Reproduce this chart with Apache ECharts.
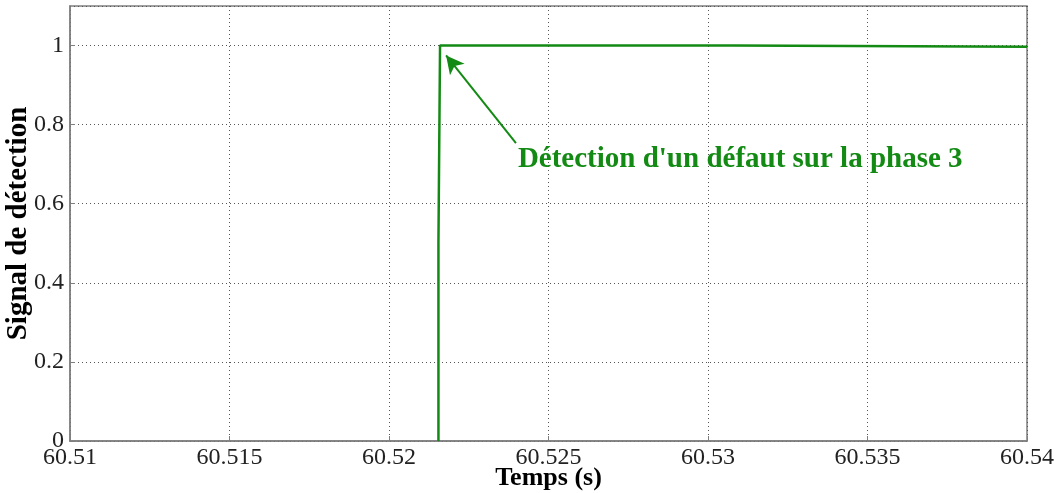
<!DOCTYPE html>
<html>
<head>
<meta charset="utf-8">
<script src="https://cdn.jsdelivr.net/npm/echarts@6/dist/echarts.min.js"></script>
<style>
html,body{margin:0;padding:0;background:#fff;}
#chart{width:1057px;height:493px;}
</style>
</head>
<body>
<div id="chart"></div>
<script>
// Data
const timeValues = [60.52155, 60.52155, 60.5216, 60.5216, 60.5308, 60.5308, 60.54];
const signalValues = [0, 0.5, 0.502, 1.0, 1.0, 0.997, 0.997];
const xTicks = [60.51, 60.515, 60.52, 60.525, 60.53, 60.535, 60.54];
const yTicks = [0, 0.2, 0.4, 0.6, 0.8, 1];
const annotationText = "Détection d'un défaut sur la phase 3";
const arrowFrom = [60.52398, 0.753];
const arrowTo = [60.52179, 0.975];
const textAnchor = [60.52404, 0.713];

const serif = '"Liberation Serif", "Times New Roman", serif';
const green = '#138a13';

const chart = echarts.init(document.getElementById('chart'));
const seriesData = timeValues.map((t, i) => [t, signalValues[i]]);

chart.setOption({
  animation: false,
  grid: {left: 70, right: 30, top: 6, bottom: 52, show: true, borderColor: '#7f7f7f', borderWidth: 1.5,
    containLabel: false, outerBoundsMode: 'none'},
  xAxis: {
    type: 'value', min: 60.51, max: 60.54, interval: 0.005,
    name: 'Temps (s)', nameLocation: 'middle', nameGap: 24, nameMoveOverlap: false,
    nameTextStyle: {fontFamily: serif, fontWeight: 'bold', fontSize: 26, color: '#000'},
    axisLine: {show: true, lineStyle: {color: '#7f7f7f', width: 1.5}},
    axisTick: {show: true, inside: true, length: 5, lineStyle: {color: '#7f7f7f'}},
    axisLabel: {fontFamily: serif, fontSize: 24, color: '#222', margin: 5,
      formatter: v => { const m = xTicks.find(t => Math.abs(t - v) < 1e-6); return m === undefined ? '' : String(m); }},
    splitLine: {show: true, lineStyle: {color: '#555', type: [1, 3], width: 1}}
  },
  yAxis: {
    type: 'value', min: 0, max: 1.1, interval: 0.2,
    name: 'Signal de détection', nameLocation: 'middle', nameGap: 37, nameRotate: 90, nameMoveOverlap: false,
    nameTextStyle: {fontFamily: serif, fontWeight: 'bold', fontSize: 29, color: '#000'},
    axisLine: {show: true, lineStyle: {color: '#7f7f7f', width: 1.5}},
    axisTick: {show: true, inside: true, length: 5, lineStyle: {color: '#7f7f7f'}},
    axisLabel: {fontFamily: serif, fontSize: 24, color: '#222', margin: 6, showMaxLabel: false,
      formatter: v => { const m = yTicks.find(t => Math.abs(t - v) < 1e-6); return m === undefined ? '' : String(m); }},
    splitLine: {show: true, lineStyle: {color: '#555', type: [1, 3], width: 1}}
  },
  series: [{
    type: 'line', data: seriesData, showSymbol: false, symbol: 'none',
    lineStyle: {color: green, width: 2.5},
    markLine: {
      silent: true, symbol: ['none', 'arrow'], symbolSize: [14, 18],
      lineStyle: {color: green, width: 2, type: 'solid'},
      label: {show: false},
      data: [[{coord: arrowFrom}, {coord: arrowTo}]]
    },
    markPoint: {
      silent: true, symbol: 'circle', symbolSize: 0,
      data: [{coord: textAnchor, value: annotationText}],
      label: {show: true, position: 'right', distance: 0, formatter: annotationText,
        fontFamily: serif, fontWeight: 'bold', fontSize: 29, color: green}
    }
  }]
});
</script>
</body>
</html>
